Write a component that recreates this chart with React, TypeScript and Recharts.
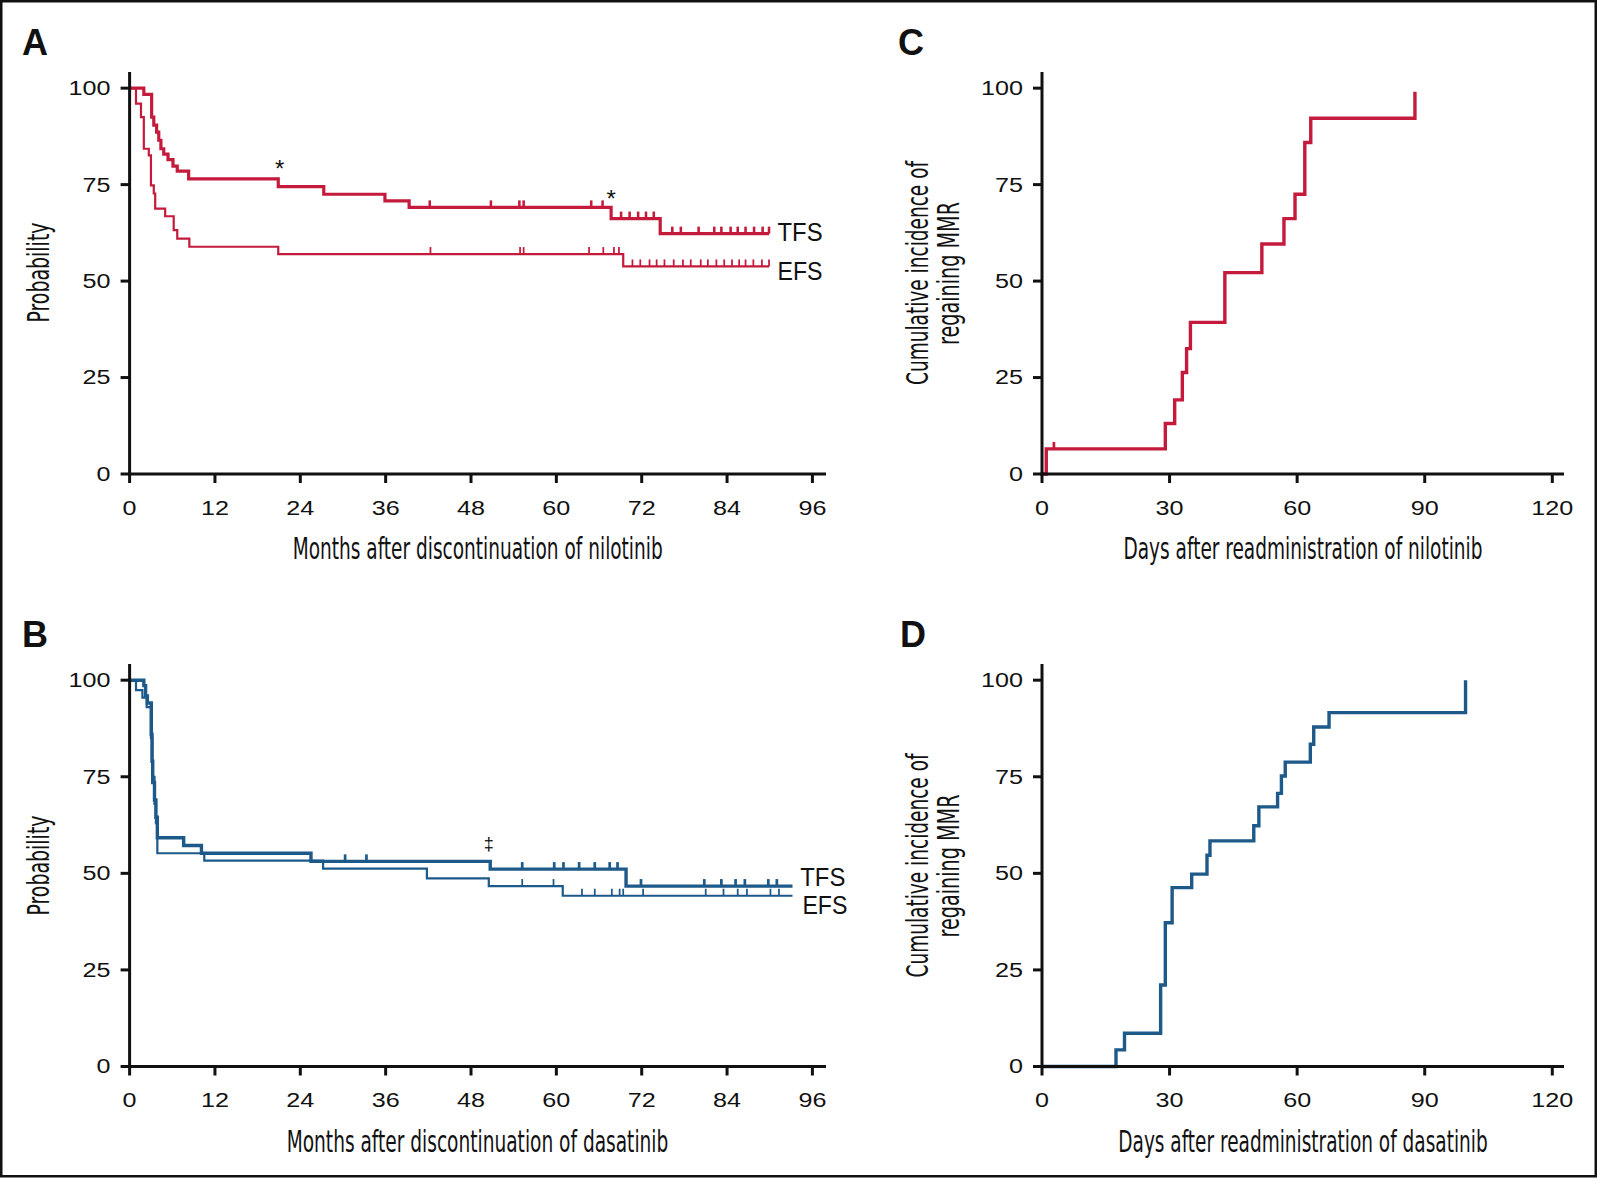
import React from "react";
import { ComposedChart, Line, Scatter, XAxis, YAxis } from "recharts";

const RED = "#c41a3b";
const BLUE = "#1d5989";
const INK = "#111111";
const TICK_FONT = "'Liberation Sans', Arial, Helvetica, sans-serif";
const TITLE_FONT =
  "'Liberation Sans Narrow', 'DejaVu Sans Condensed', 'Roboto Condensed', 'Liberation Sans', Arial, sans-serif";

type Pt = [number, number];

// tick labels
const monthTicks = [0, 12, 24, 36, 48, 60, 72, 84, 96];
const dayTicks = [0, 30, 60, 90, 120];
const pctTicks = [0, 25, 50, 75, 100];

// A: after discontinuation of nilotinib (months, %)
const nilotinibTFS: Pt[] = [
  [0, 100], [2.0, 98.4], [3.1, 92.5], [3.4, 90.4], [3.8, 88.6], [4.1, 86.5],
  [4.4, 84.3], [4.8, 82.9], [5.4, 81.5], [6.1, 79.8], [6.7, 78.5], [8.3, 76.5],
  [20.9, 74.5], [27.3, 72.5], [35.9, 70.8], [39.3, 69.1], [67.7, 66.2],
  [74.6, 62.3], [89.9, 62.3],
];
const nilotinibEFS: Pt[] = [
  [0, 100], [0.9, 96.0], [1.6, 92.5], [2.0, 84.3], [2.7, 82.6], [3.0, 74.8],
  [3.4, 72.7], [3.6, 68.8], [5.0, 66.8], [6.2, 63.2], [6.7, 61.0], [8.4, 58.9],
  [20.9, 57.0], [69.4, 53.8], [89.9, 53.8],
];
const nilotinibTFSCensored = [
  42.2, 50.8, 54.8, 55.4, 64.9, 66.5, 69.1, 70.3, 71.5, 72.6, 73.7, 76.3, 77.5,
  80.0, 82.2, 83.2, 84.5, 85.5, 86.6, 87.8, 89.0, 89.9,
];
const nilotinibEFSCensored = [
  42.3, 54.9, 55.4, 64.6, 66.6, 68.1, 68.8, 70.7, 71.8, 73.1, 74.1, 75.2, 76.5,
  77.8, 78.9, 80.3, 81.3, 82.5, 83.6, 84.7, 85.7, 86.6, 87.7, 88.9, 89.9,
];
const nilotinibNotes = [
  { x: 21.1, y: 80.4, text: "*" },
  { x: 67.7, y: 72.8, text: "*" },
];
const nilotinibCurveLabels = [
  { x: 91.1, y: 62.8, text: "TFS" },
  { x: 91.1, y: 52.6, text: "EFS" },
];

// B: after discontinuation of dasatinib (months, %)
const dasatinibTFS: Pt[] = [
  [0, 100], [2.0, 98.6], [2.25, 95.9], [2.5, 94.1], [3.05, 86], [3.15, 79],
  [3.25, 73.5], [3.5, 69], [3.7, 64.5], [3.9, 59.2], [7.6, 57.2], [10.1, 55.2],
  [25.5, 53.1], [50.7, 51.1], [69.8, 46.7], [93.2, 46.7],
];
const dasatinibEFS: Pt[] = [
  [0, 100], [0.9, 97.4], [1.8, 95.5], [2.4, 93], [3.0, 85], [3.2, 75],
  [3.5, 68], [3.7, 63], [3.9, 55.2], [10.5, 53.3], [27.2, 51.2], [41.8, 48.7],
  [50.5, 46.7], [60.9, 44.2], [93.2, 44.2],
];
const dasatinibTFSCensored = [
  30.3, 33.3, 55.2, 59.7, 61.0, 63.2, 65.4, 67.5, 68.6, 71.9, 80.8, 83.2, 85.2,
  86.5, 89.8, 91.0,
];
const dasatinibEFSCensored = [
  55.2, 59.6, 63.6, 65.4, 67.8, 68.9, 69.4, 72.2, 81.0, 83.5, 85.5, 86.8, 90.1,
  91.3,
];
const dasatinibNotes = [{ x: 50.5, y: 57.4, text: "‡" }];
const dasatinibCurveLabels = [
  { x: 94.3, y: 49.2, text: "TFS" },
  { x: 94.6, y: 41.8, text: "EFS" },
];

// C / D: regaining MMR after readministration (days, %)
const nilotinibMMR: Pt[] = [
  [0, 0], [1.0, 6.5], [29.0, 13.1], [31.2, 19.2], [33.0, 26.3], [34.0, 32.5],
  [34.9, 39.3], [43.0, 52.2], [51.7, 59.6], [56.9, 66.2], [59.5, 72.5],
  [61.8, 85.9], [63.2, 92.2], [87.7, 99.1],
];
const nilotinibMMRCensored = [2.8];
const dasatinibMMR: Pt[] = [
  [0, 0], [17.4, 4.3], [19.4, 8.6], [27.9, 21.1], [29.0, 37.2], [30.6, 46.3],
  [35.2, 49.8], [38.8, 54.7], [39.5, 58.4], [49.8, 62.3], [51.0, 67.2],
  [55.4, 70.7], [56.3, 75.2], [57.2, 78.8], [63.1, 83.4], [63.9, 87.9],
  [67.5, 91.6], [99.6, 100],
];

const toRows = (pts: Pt[]) => pts.map(([x, y]) => ({ x, y }));

// level of a step curve at time x (for placing censor marks on the curve)
const stepValueAt = (pts: Pt[], x: number) => {
  let v = pts[0][1];
  for (const [px, py] of pts) if (px <= x) v = py;
  return v;
};

const XTick = (props: any) => {
  const label = String(props.payload.value);
  return (
    <text
      x={props.x}
      y={props.y}
      dy="0.71em"
      textAnchor="middle"
      fontFamily={TICK_FONT}
      fontSize={19.5}
      fill={INK}
      textLength={label.length * 14}
      lengthAdjust="spacingAndGlyphs"
    >
      {label}
    </text>
  );
};

const YTick = (props: any) => {
  const label = String(props.payload.value);
  return (
    <text
      x={props.x}
      y={props.y}
      dy="0.355em"
      textAnchor="end"
      fontFamily={TICK_FONT}
      fontSize={19.5}
      fill={INK}
      textLength={label.length * 14}
      lengthAdjust="spacingAndGlyphs"
    >
      {label}
    </text>
  );
};

type Curve = { pts: Pt[]; censored?: number[]; width: number };
type Note = { x: number; y: number; text: string };

type PanelProps = {
  box: { left: number; top: number; w: number; h: number };
  plot: { left: number; top: number; right: number; bottom: number };
  xMax: number;
  xTicks: number[];
  color: string;
  curves: Curve[];
  notes?: Note[];
  curveLabels?: Note[];
};

const X_AXIS_H = 60;

function Panel({ box, plot, xMax, xTicks, color, curves, notes = [], curveLabels = [] }: PanelProps) {
  const margin = {
    top: plot.top - box.top,
    right: box.left + box.w - plot.right,
    bottom: box.top + box.h - plot.bottom - X_AXIS_H,
    left: 0,
  };
  const axisStyle = { stroke: INK, strokeWidth: 3, strokeLinecap: "square" as const };
  return (
    <div style={{ position: "absolute", left: box.left, top: box.top, width: box.w, height: box.h }}>
      <ComposedChart width={box.w} height={box.h} margin={margin}>
        <XAxis
          type="number"
          dataKey="x"
          domain={[0, xMax]}
          ticks={xTicks}
          interval={0}
          height={X_AXIS_H}
          tickSize={9}
          tickMargin={18}
          axisLine={axisStyle}
          tickLine={{ stroke: INK, strokeWidth: 3 }}
          tick={<XTick />}
        />
        <YAxis
          type="number"
          dataKey="y"
          domain={[0, 103.8]}
          ticks={pctTicks}
          interval={0}
          width={plot.left - box.left}
          tickSize={9}
          tickMargin={10}
          axisLine={axisStyle}
          tickLine={{ stroke: INK, strokeWidth: 3 }}
          tick={<YTick />}
        />
        {curves.map((c, i) => (
          <Line
            key={"l" + i}
            data={toRows(c.pts)}
            dataKey="y"
            type="stepAfter"
            stroke={color}
            strokeWidth={c.width}
            dot={false}
            activeDot={false}
            isAnimationActive={false}
          />
        ))}
        {curves.map((c, i) =>
          c.censored ? (
            <Scatter
              key={"c" + i}
              data={c.censored.map((x) => ({ x, y: stepValueAt(c.pts, x) }))}
              isAnimationActive={false}
              shape={(p: any) => (
                <line x1={p.cx} x2={p.cx} y1={p.cy} y2={p.cy - 7} stroke={color} strokeWidth={c.width * 0.8} />
              )}
            />
          ) : null
        )}
        {notes.length > 0 && (
          <Scatter
            data={notes}
            isAnimationActive={false}
            shape={(p: any) => (
              <text
                x={p.cx}
                y={p.cy}
                dy={p.payload.text === "*" ? "0.57em" : "0.27em"}
                textAnchor="middle"
                fontFamily={TICK_FONT}
                fontSize={p.payload.text === "*" ? 24 : 18}
                fill={INK}
              >
                {p.payload.text}
              </text>
            )}
          />
        )}
        {curveLabels.length > 0 && (
          <Scatter
            data={curveLabels}
            isAnimationActive={false}
            shape={(p: any) => (
              <text
                x={p.cx}
                y={p.cy}
                dy="0.36em"
                textAnchor="start"
                fontFamily={TICK_FONT}
                fontSize={26}
                fill={INK}
                textLength={45}
                lengthAdjust="spacingAndGlyphs"
              >
                {p.payload.text}
              </text>
            )}
          />
        )}
      </ComposedChart>
    </div>
  );
}

const leftPlot = (top: number, bottom: number) => ({ left: 129.6, top, right: 824.5, bottom });
const rightPlot = (top: number, bottom: number) => ({ left: 1042, top, right: 1562.5, bottom });

function Title({ x, y, len, text, rotate = false }: { x: number; y: number; len: number; text: string; rotate?: boolean }) {
  return (
    <text
      x={x}
      y={y}
      textAnchor="middle"
      fontFamily={TITLE_FONT}
      fontSize={30}
      fill={INK}
      textLength={len}
      lengthAdjust="spacingAndGlyphs"
      transform={rotate ? `rotate(-90 ${x} ${y})` : undefined}
    >
      {text}
    </text>
  );
}

function Letter({ x, y, text }: { x: number; y: number; text: string }) {
  return (
    <text x={x} y={y} fontFamily={TICK_FONT} fontWeight="bold" fontSize={36} fill={INK}>
      {text}
    </text>
  );
}

export default function App() {
  return (
    <div style={{ position: "absolute", left: 0, top: 0, width: 1600, height: 1180, background: "#fff" }}>
      <Panel
        box={{ left: 0, top: 0, w: 880, h: 590 }}
        plot={leftPlot(73.5, 474)}
        xMax={97.7}
        xTicks={monthTicks}
        color={RED}
        curves={[
          { pts: nilotinibTFS, censored: nilotinibTFSCensored, width: 3.2 },
          { pts: nilotinibEFS, censored: nilotinibEFSCensored, width: 2.2 },
        ]}
        notes={nilotinibNotes}
        curveLabels={nilotinibCurveLabels}
      />
      <Panel
        box={{ left: 0, top: 590, w: 880, h: 590 }}
        plot={leftPlot(665.5, 1066.5)}
        xMax={97.7}
        xTicks={monthTicks}
        color={BLUE}
        curves={[
          { pts: dasatinibTFS, censored: dasatinibTFSCensored, width: 3.4 },
          { pts: dasatinibEFS, censored: dasatinibEFSCensored, width: 2.2 },
        ]}
        notes={dasatinibNotes}
        curveLabels={dasatinibCurveLabels}
      />
      <Panel
        box={{ left: 880, top: 0, w: 720, h: 590 }}
        plot={rightPlot(73.5, 474)}
        xMax={122.4}
        xTicks={dayTicks}
        color={RED}
        curves={[{ pts: nilotinibMMR, censored: nilotinibMMRCensored, width: 3.4 }]}
      />
      <Panel
        box={{ left: 880, top: 590, w: 720, h: 590 }}
        plot={rightPlot(665.5, 1066.5)}
        xMax={122.4}
        xTicks={dayTicks}
        color={BLUE}
        curves={[{ pts: dasatinibMMR, width: 3.4 }]}
      />
      <svg
        width={1600}
        height={1180}
        style={{ position: "absolute", left: 0, top: 0, pointerEvents: "none" }}
      >
        <rect x={1.25} y={1.25} width={1594.5} height={1175} fill="none" stroke={INK} strokeWidth={2.5} />
        <Letter x={22} y={54.5} text="A" />
        <Letter x={898} y={54.5} text="C" />
        <Letter x={22} y={647} text="B" />
        <Letter x={900} y={647} text="D" />

        <Title x={477.7} y={559} len={370} text="Months after discontinuation of nilotinib" />
        <Title x={477.5} y={1151.5} len={381.6} text="Months after discontinuation of dasatinib" />
        <Title x={1303} y={559} len={359} text="Days after readministration of nilotinib" />
        <Title x={1303} y={1151.5} len={369.4} text="Days after readministration of dasatinib" />

        <Title x={49} y={272.5} len={100} text="Probability" rotate />
        <Title x={49} y={865.5} len={100} text="Probability" rotate />
        <Title x={928} y={273} len={224} text="Cumulative incidence of" rotate />
        <Title x={959} y={273.5} len={143} text="regaining MMR" rotate />
        <Title x={928} y={865.5} len={224} text="Cumulative incidence of" rotate />
        <Title x={959} y={866} len={143} text="regaining MMR" rotate />
      </svg>
    </div>
  );
}
